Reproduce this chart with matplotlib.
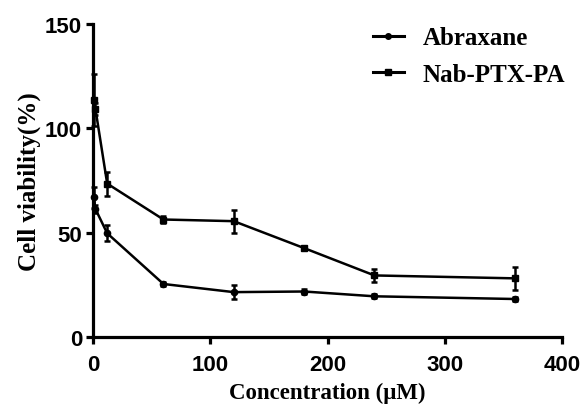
import matplotlib
matplotlib.use("Agg")
import matplotlib.pyplot as plt
from matplotlib.lines import Line2D

# data
conc = [0.5, 2, 12, 60, 120, 180, 240, 360]
abraxane = [67, 61.3, 49.7, 25.4, 21.5, 21.8, 19.5, 18.2]
abraxane_err = [5, 2, 3.8, 1, 3.3, 1, 1, 0.8]
nab = [113.5, 109.2, 73.5, 56.3, 55.5, 42.6, 29.5, 28.1]
nab_err = [12.5, 3, 5.7, 1.5, 5.5, 0.8, 3.2, 5.5]

xticks = [0, 100, 200, 300, 400]
yticks = [0, 50, 100, 150]

fig = plt.figure(figsize=(5.82, 4.06), dpi=100)
ax = fig.add_axes([0.16, 0.1675, 0.8056, 0.771])

ax.errorbar(conc, abraxane, yerr=abraxane_err, color="black", lw=1.8,
            marker="o", ms=4.5, capsize=2.5, elinewidth=1.8, capthick=1.8,
            clip_on=False)
ax.errorbar(conc, nab, yerr=nab_err, color="black", lw=1.8,
            marker="s", ms=5, capsize=2.5, elinewidth=1.8, capthick=1.8,
            clip_on=False)

ax.set_xlim(0, 400)
ax.set_ylim(0, 150)
ax.set_xticks(xticks)
ax.set_yticks(yticks)

for s in ["top", "right"]:
    ax.spines[s].set_visible(False)
for s in ["left", "bottom"]:
    ax.spines[s].set_linewidth(2.3)
ax.tick_params(width=2.3, length=5, labelsize=16, pad=3)
ax.tick_params(axis="x", pad=7)
for lab in ax.get_xticklabels() + ax.get_yticklabels():
    lab.set_fontfamily("Liberation Sans")
    lab.set_fontweight("bold")

ax.set_xlabel("Concentration (μM)", family="Liberation Serif", weight="bold",
              size=16.5, labelpad=5)
ax.set_ylabel("Cell viability(%)", family="Liberation Serif", weight="bold",
              size=18, labelpad=3)

# legend without error bars, like the original
handles = [Line2D([], [], color="black", lw=2.2, marker="o", ms=4),
           Line2D([], [], color="black", lw=2.2, marker="s", ms=4.5)]
ax.legend(handles, ["Abraxane", "Nab-PTX-PA"], loc="upper left",
          bbox_to_anchor=(0.548, 1.064), frameon=False,
          prop={"family": "Liberation Serif", "weight": "bold", "size": 18},
          handlelength=1.25, handletextpad=0.75, labelspacing=0.55)

fig.savefig("out.png", dpi=100)
